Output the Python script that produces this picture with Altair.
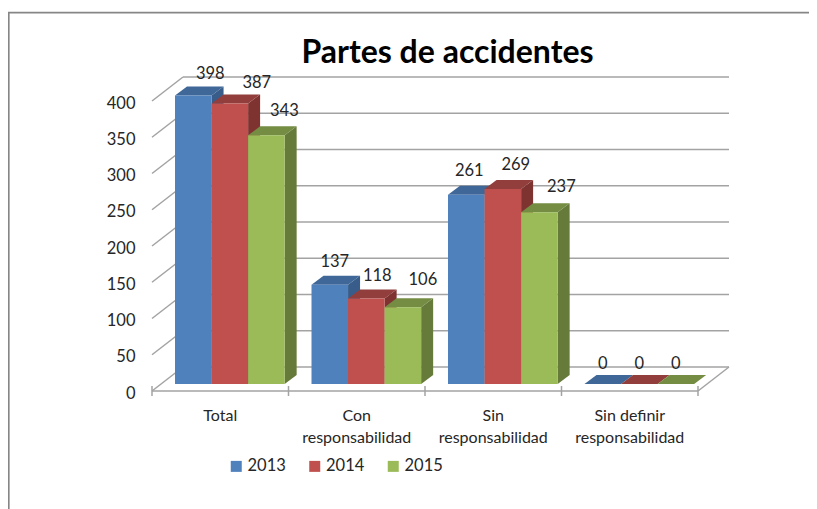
import altair as alt
import pandas as pd

# ---- chart data
categories = ["Total", "Con\nresponsabilidad", "Sin\nresponsabilidad", "Sin definir\nresponsabilidad"]
series = ["2013", "2014", "2015"]
values_2013 = [398, 137, 261, 0]
values_2014 = [387, 118, 269, 0]
values_2015 = [343, 106, 237, 0]
y_ticks = [0, 50, 100, 150, 200, 250, 300, 350, 400]
title_text = "Partes de accidentes"

# ---- styles
front_colors = ["#4f81bd", "#c0504d", "#9bbb59"]
top_colors = ["#3f6797", "#923e3c", "#748d43"]
side_colors = ["#385d8a", "#7e3331", "#667b3a"]
LINE = "#a3a3a3"
FRAME = "#868686"
TEXT = "#262626"
FONT = "Lato"
FS = 16.5

# ---- layout (scale units; x in category widths, y in data values)
PX_X = 136.5
PX_Y = 0.725
BAR_START = 23 / PX_X
BAR_W = 36.55 / PX_X
DX = 12 / PX_X
DV = 9 / PX_Y
AXIS_V = -7 / PX_Y
WALL_U = 31 / PX_X
WALL_V = 17 / PX_Y
# manual nudges of the data labels, pixels (right, up)
label_nudge_x = [17, 27, 18, 5, 11, 20, 3, 13, 22, 0, 0, 0]
label_nudge_y = [21.5, 20.5, 24.5, 23, 22.5, 27.5, 24, 23.5, 25.5, 20.5, 20.5, 20.5]

X = alt.Scale(domain=[0, 4], range=[144, 690], nice=False, zero=False)
Y = alt.Scale(domain=[0, 400], range=[376, 86], nice=False, zero=False)
YAX = alt.Axis(values=y_ticks, orient="left", offset=-127, labelPadding=0, ticks=False,
               domain=False, grid=False, title=None, labelOffset=9, labelFontSize=FS,
               labelFont=FONT, labelColor=TEXT)

all_values = [values_2013, values_2014, values_2015]
fronts, sides, tops, labels = [], [], [], []
n = 0
for c in range(len(categories)):
    for s, name in enumerate(series):
        v = all_values[s][c]
        l = c + BAR_START + s * BAR_W
        r = l + BAR_W
        fronts.append(dict(l=l, r=r, v=v, base=0, serie=name))
        poly = f"{c}-{s}"
        sides.append(dict(poly=poly, u=r, y=v, y0=0, col=side_colors[s]))
        sides.append(dict(poly=poly, u=r + DX, y=v + DV, y0=DV, col=side_colors[s]))
        tops.append(dict(poly=poly, y=v, u=l, u2=r, col=top_colors[s]))
        tops.append(dict(poly=poly, y=v + DV, u=l + DX, u2=r + DX, col=top_colors[s]))
        labels.append(dict(u=(l + r) / 2 + label_nudge_x[n] / PX_X,
                           y=v + label_nudge_y[n] / PX_Y, t=str(v)))
        n += 1

# back wall grid, side diagonals, floor
lines = []
for t in y_ticks:
    lines.append(dict(a=WALL_U, b=4 + WALL_U, y=t + WALL_V, y2=t + WALL_V))
    lines.append(dict(a=0, b=WALL_U, y=t + AXIS_V, y2=t + WALL_V))
lines.append(dict(a=0, b=4, y=AXIS_V, y2=AXIS_V))
lines.append(dict(a=4, b=4 + WALL_U, y=AXIS_V, y2=WALL_V))
for i in range(5):
    lines.append(dict(a=i, b=i, y=AXIS_V - 5 / PX_Y, y2=AXIS_V + 5 / PX_Y))

frame = pd.DataFrame({"k": [0]})
frame_top = alt.Chart(frame).mark_rule(color=FRAME, strokeWidth=1.75).encode(
    x=alt.value(0), x2=alt.value(801), y=alt.value(4.5))
frame_left = alt.Chart(frame).mark_rule(color=FRAME, strokeWidth=1.75).encode(
    x=alt.value(0.75), y=alt.value(4), y2=alt.value(501))

grid = alt.Chart(pd.DataFrame(lines)).mark_rule(color=LINE, strokeWidth=1.5).encode(
    x=alt.X("a:Q", scale=X, axis=None),
    x2="b:Q",
    y=alt.Y("y:Q", scale=Y, axis=YAX),
    y2="y2:Q",
)

side = alt.Chart(pd.DataFrame(sides)).mark_area(interpolate="linear").encode(
    x=alt.X("u:Q", scale=X, axis=None),
    y=alt.Y("y:Q", scale=Y, axis=YAX, stack=None),
    y2="y0:Q",
    detail="poly:N",
    color=alt.Color("col:N", scale=None),
)
top = alt.Chart(pd.DataFrame(tops)).mark_area(interpolate="linear", orient="horizontal").encode(
    y=alt.Y("y:Q", scale=Y, axis=YAX),
    x=alt.X("u:Q", scale=X, axis=None, stack=None),
    x2="u2:Q",
    detail="poly:N",
    color=alt.Color("col:N", scale=None),
)
front = alt.Chart(pd.DataFrame(fronts)).mark_rect().encode(
    x=alt.X("l:Q", scale=X, axis=None),
    x2="r:Q",
    y=alt.Y("v:Q", scale=Y, axis=YAX),
    y2="base:Q",
    color=alt.Color("serie:N", scale=alt.Scale(domain=series, range=front_colors), legend=alt.Legend(
        orient="none", legendX=220, legendY=450, direction="horizontal", title=None,
        symbolType="square", symbolSize=121, symbolStrokeWidth=0, labelFontSize=FS,
        labelFont=FONT, labelColor=TEXT, columnPadding=20.5, labelOffset=3)),
)
data_labels = alt.Chart(pd.DataFrame(labels)).mark_text(
    fontSize=FS, font=FONT, color=TEXT, baseline="middle", align="center"
).encode(
    x=alt.X("u:Q", scale=X, axis=None),
    y=alt.Y("y:Q", scale=Y, axis=YAX),
    text="t:N",
)
cat_df = pd.DataFrame({"u": [i + 0.5 for i in range(4)], "t": categories})
cat_labels = alt.Chart(cat_df).mark_text(
    fontSize=16, font=FONT, color=TEXT, baseline="middle", align="center",
    lineBreak="\n", lineHeight=22
).encode(
    x=alt.X("u:Q", scale=X, axis=None),
    y=alt.value(407.5),
    text="t:N",
)

chart = alt.layer(frame_top, frame_left, grid, side, top, front, data_labels, cat_labels).properties(
    width=801,
    height=501,
    padding=0,
    autosize=alt.AutoSizeParams(type="none"),
    title=alt.TitleParams(title_text, fontSize=32, font=FONT, fontWeight="bold", color="#000000",
                          anchor="middle", dx=39, dy=77, baseline="middle", offset=0),
).resolve_scale(color="independent").configure_view(stroke=None)

chart.save("out.html", embed_options={"renderer": "svg", "actions": False})
